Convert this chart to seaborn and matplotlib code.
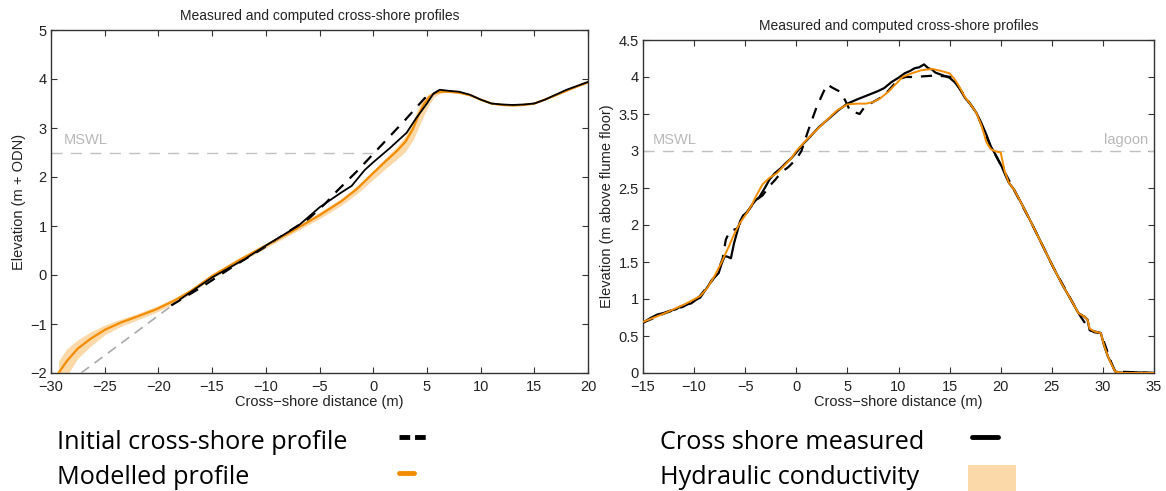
import numpy as np
import pandas as pd
import matplotlib
matplotlib.use("Agg")
import matplotlib.pyplot as plt
from matplotlib.lines import Line2D
from matplotlib.patches import Rectangle
from matplotlib import font_manager
import seaborn as sns

# ---------------- data: left panel ----------------
L_ext_x = [-27.2, -18.6]
L_ext_y = [-2.0, -0.6]

L_init_x = [-18.8, -16, -13, -10, -7.5, -6, -4.5, -3.3, -1.5, 0, 1.5, 3.0, 4.8, 5.5, 6.1]
L_init_y = [-0.62, -0.25, 0.18, 0.58, 0.94, 1.15, 1.45, 1.73, 2.12, 2.47, 2.82, 3.17, 3.61, 3.68, 3.76]

L_meas_x = [-18, -15, -12, -10, -7, -5, -3, -2, -0.8, 0, 1.5, 3.1, 4, 5, 5.6, 6.2, 7, 8, 9, 10, 11,
            12, 13, 14, 15, 16, 17, 18, 19, 20]
L_meas_y = [-0.5, -0.05, 0.32, 0.6, 1.0, 1.38, 1.68, 1.82, 2.14, 2.3, 2.58, 2.9, 3.2, 3.5, 3.7, 3.78,
            3.76, 3.74, 3.68, 3.58, 3.5, 3.48, 3.47, 3.48, 3.5, 3.58, 3.68, 3.78, 3.86, 3.94]

L_model_x = [-29.3, -28.5, -27.5, -26.3, -25, -23.5, -22, -20.2, -18.5, -17, -15, -12.5, -10, -7.5,
             -5, -3, -1.5, 0, 1.2, 2.2, 3, 3.7, 4.2, 4.7, 5.2, 5.7, 6.3, 7, 8, 9, 10, 11, 12, 13, 14,
             15, 16, 17, 18, 19, 20]
L_model_y = [-2.0, -1.75, -1.5, -1.3, -1.12, -0.97, -0.85, -0.7, -0.52, -0.33, -0.02, 0.3, 0.6, 0.9,
             1.22, 1.5, 1.76, 2.08, 2.33, 2.53, 2.72, 2.98, 3.25, 3.48, 3.63, 3.71, 3.74, 3.74, 3.72,
             3.67, 3.58, 3.5, 3.47, 3.46, 3.47, 3.5, 3.58, 3.67, 3.76, 3.85, 3.93]
# hydraulic-conductivity envelope (lower / upper) on the model x grid
L_band_lo = [-2.3, -2.05, -1.7, -1.45, -1.22, -1.05, -0.92, -0.76, -0.58, -0.38, -0.07, 0.25, 0.55,
             0.85, 1.15, 1.42, 1.66, 1.95, 2.18, 2.36, 2.52, 2.75, 3.0, 3.25, 3.48, 3.64, 3.71, 3.73,
             3.71, 3.66, 3.57, 3.49, 3.46, 3.45, 3.46, 3.49, 3.57, 3.66, 3.75, 3.84, 3.92]
L_band_hi = [-1.75, -1.5, -1.32, -1.16, -1.02, -0.9, -0.79, -0.64, -0.47, -0.29, 0.02, 0.35, 0.65,
             0.95, 1.28, 1.56, 1.82, 2.14, 2.4, 2.62, 2.84, 3.15, 3.42, 3.6, 3.7, 3.74, 3.76, 3.75,
             3.73, 3.68, 3.59, 3.51, 3.48, 3.47, 3.48, 3.51, 3.59, 3.68, 3.77, 3.86, 3.94]

# ---------------- data: right panel ----------------
R_meas_x = [-15, -14.3, -13.6, -13, -12.4, -11.8, -11.3, -10.9, -10.3, -9.8, -9.4, -9.0, -8.6, -8.3,
            -7.9, -7.6, -7.3, -7.0, -6.7, -6.4, -6.1, -5.8, -5.5, -5.2, -4.8, -4.4, -4.0, -3.6, -3.3,
            -3.0, -2.6, -2.1, -1.5, -1.0, -0.5, 0, 0.7, 1.4, 2.2, 3.2, 4.1, 5.0, 6.0, 7.1, 8.0, 8.6,
            9.3, 10.0, 10.6, 11.1, 11.6, 12.0, 12.5, 12.9, 13.3, 13.6, 14.2, 15.0, 15.5, 15.9, 16.5,
            17.1, 17.6, 18.1, 18.6, 19.0, 19.5, 20.1, 20.5, 20.8, 21.3, 22.0, 23.0, 24.0, 25.1, 26.0,
            27.0, 27.6, 28.2, 28.5, 28.7, 29.2, 29.8, 30.1, 30.5, 30.9, 31.2, 32, 33, 35]
R_meas_y = [0.68, 0.74, 0.79, 0.81, 0.84, 0.86, 0.9, 0.92, 0.94, 0.99, 1.02, 1.1, 1.18, 1.25,
            1.31, 1.35, 1.48, 1.58, 1.57, 1.55, 1.75, 1.9, 2.05, 2.13, 2.17, 2.26, 2.33, 2.38, 2.45,
            2.52, 2.62, 2.7, 2.77, 2.84, 2.9, 2.98, 3.1, 3.2, 3.32, 3.44, 3.55, 3.64, 3.7, 3.76, 3.81,
            3.85, 3.93, 3.99, 4.05, 4.08, 4.12, 4.13, 4.17, 4.12, 4.1, 4.06, 4.03, 3.99, 3.93, 3.86,
            3.72, 3.62, 3.52, 3.38, 3.22, 3.07, 2.95, 2.79, 2.66, 2.57, 2.48, 2.3, 2.03, 1.75, 1.44,
            1.2, 0.96, 0.81, 0.76, 0.72, 0.58, 0.55, 0.54, 0.38, 0.22, 0.11, 0.02, 0.0, 0.01, 0.0]

R_init_x = [-15, -13, -11, -9.5, -8.5, -7.8, -7.2, -6.9, -6.5, -5.8, -5.1, -4.4, -3.8, -3.3, -2.6,
            -2.0, -1.5, -0.8, 0, 0.5, 1.1, 2.0, 3.0, 3.6, 4.3, 4.8, 5.3, 5.8, 6.2, 6.7, 7.1, 8.0, 8.6,
            9.3, 10.0, 10.7, 11.4, 12.5, 13.6, 14.5, 15.2, 15.8, 17.6, 19.0, 20.1, 23.0, 25.1, 27.6,
            28.7, 29.8, 30.9, 31.2, 35]
R_init_y = [0.68, 0.8, 0.9, 1.03, 1.2, 1.33, 1.55, 1.8, 1.92, 1.95, 2.13, 2.25, 2.35, 2.4, 2.53,
            2.62, 2.71, 2.78, 2.89, 3.0, 3.25, 3.6, 3.9, 3.85, 3.8, 3.68, 3.53, 3.52, 3.5, 3.6, 3.63,
            3.7, 3.75, 3.86, 3.97, 4.0, 4.0, 4.01, 4.02, 4.01, 4.0, 3.88, 3.52, 3.07, 2.79, 2.03,
            1.44, 0.81, 0.58, 0.54, 0.11, 0.02, 0.0]

R_model_x = [-15, -13, -10.9, -9.4, -8.7, -8, -7.3, -6.6, -6, -5.5, -4.9, -4.4, -3.9, -3.3, -2.6,
             -1.9, -1.2, -0.5, 0, 1, 2.1, 3, 4, 5, 6, 6.8, 7.5, 8.2, 9, 9.7, 10.4, 11.3, 12.2, 13.3,
             14.2, 15, 15.5, 15.9, 16.5, 17.1, 17.6, 18.1, 18.6, 19.0, 19.4, 20.0, 20.2, 20.4, 20.8,
             21.3, 22.0, 23.0, 24.0, 25.1, 26.0, 27.0, 27.6, 28.2, 28.5, 28.7, 29.2, 29.8, 30.1,
             30.5, 30.9, 31.2, 32, 35]
R_model_y = [0.69, 0.8, 0.93, 1.04, 1.15, 1.31, 1.5, 1.71, 1.9, 2.03, 2.15, 2.26, 2.4, 2.55, 2.64,
             2.7, 2.8, 2.9, 3.0, 3.15, 3.3, 3.42, 3.55, 3.63, 3.64, 3.64, 3.66, 3.71, 3.8, 3.9, 4.0,
             4.05, 4.09, 4.11, 4.08, 4.05, 3.97, 3.88, 3.73, 3.62, 3.52, 3.35, 3.12, 3.03, 3.0, 2.98,
             2.85, 2.72, 2.57, 2.48, 2.3, 2.03, 1.75, 1.44, 1.2, 0.96, 0.81, 0.76, 0.72, 0.6, 0.56,
             0.54, 0.38, 0.22, 0.1, 0.02, 0.0, 0.0]

TITLE = "Measured and computed cross-shore profiles"
XLABEL = "Cross\u2212shore distance (m)"
L_YLABEL = "Elevation (m + ODN)"
R_YLABEL = "Elevation (m above flume floor)"
L_XTICKS = [-30, -25, -20, -15, -10, -5, 0, 5, 10, 15, 20]
L_YTICKS = [-2, -1, 0, 1, 2, 3, 4, 5]
R_XTICKS = [-15, -10, -5, 0, 5, 10, 15, 20, 25, 30, 35]
R_YTICKS = [0, 0.5, 1, 1.5, 2, 2.5, 3, 3.5, 4, 4.5]
L_MSWL = 2.5
R_MSWL = 3.0
LEGEND_LABELS = ["Initial cross-shore profile", "Modelled profile",
                 "Cross shore measured", "Hydraulic conductivity"]

# ---------------- style ----------------
sns.set_theme(style="white")
avail = {f.name for f in font_manager.fontManager.ttflist}
plt.rcParams['font.family'] = ['Liberation Sans', 'DejaVu Sans']
if 'Liberation Sans Narrow' in avail:
    LEG_FONT, LEG_SIZE = ['Liberation Sans Narrow', 'DejaVu Sans'], 19
else:
    LEG_FONT, LEG_SIZE = ['Open Sans', 'DejaVu Sans'], 18.2

ORANGE = "#f28c00"
BAND = "#fcd9a8"
GREY = "#c0c0c0"
TXT = "#222222"

fig = plt.figure(figsize=(11.66, 4.91), dpi=100)
axL = fig.add_axes([51 / 1166, 1 - 373 / 491, 537 / 1166, 343 / 491])
axR = fig.add_axes([643 / 1166, 1 - 373 / 491, 511 / 1166, 333 / 491])


def line(ax, x, y, **kw):
    df = pd.DataFrame({"x": x, "y": y})
    sns.lineplot(data=df, x="x", y="y", ax=ax, sort=False, estimator=None, **kw)


# left panel
axL.axhline(L_MSWL, xmin=0, xmax=0.6, color=GREY, lw=1.0, dashes=(8, 6), zorder=1)
axL.text(-28.8, L_MSWL + 0.12, "MSWL", color="#b8b8b8", fontsize=10.5, va="bottom", ha="left")
axL.fill_between(L_model_x, L_band_lo, L_band_hi, color=BAND, lw=0, zorder=2)
line(axL, L_ext_x, L_ext_y, color="#aaaaaa", lw=1.2, dashes=(6, 4), zorder=3)
line(axL, L_init_x, L_init_y, color="black", lw=1.6, dashes=(5, 4), zorder=3)
line(axL, L_model_x, L_model_y, color=ORANGE, lw=1.6, zorder=4)
line(axL, L_meas_x, L_meas_y, color="black", lw=1.3, zorder=5)
axL.set_xlim(-30, 20)
axL.set_ylim(-2, 5)
axL.set_xticks(L_XTICKS)
axL.set_yticks(L_YTICKS)
axL.set_ylabel(L_YLABEL, fontsize=10.5, color=TXT, labelpad=3)
axL.set_xlabel(XLABEL, fontsize=10.5, color=TXT, labelpad=1)
axL.set_title(TITLE, fontsize=10, color=TXT, pad=7)

# right panel
axR.axhline(R_MSWL, color=GREY, lw=1.0, dashes=(8, 6), zorder=1)
axR.text(-14.0, R_MSWL + 0.06, "MSWL", color="#b8b8b8", fontsize=10.5, va="bottom", ha="left")
axR.text(34.4, R_MSWL + 0.06, "lagoon", color="#b8b8b8", fontsize=10.5, va="bottom", ha="right")
line(axR, R_init_x, R_init_y, color="black", lw=1.6, dashes=(5, 4), zorder=3)
line(axR, R_meas_x, R_meas_y, color="black", lw=1.6, zorder=4)
line(axR, R_model_x, R_model_y, color=ORANGE, lw=1.4, zorder=5)
axR.set_xlim(-15, 35)
axR.set_ylim(0, 4.5)
axR.set_xticks(R_XTICKS)
axR.set_yticks(R_YTICKS)
axR.set_yticklabels([("%g" % v) for v in R_YTICKS])
axR.set_ylabel(R_YLABEL, fontsize=10.5, color=TXT, labelpad=3)
axR.set_xlabel(XLABEL, fontsize=10.5, color=TXT, labelpad=1)
axR.set_title(TITLE, fontsize=10, color=TXT, pad=7)

for ax in (axL, axR):
    for s in ax.spines.values():
        s.set_visible(True)
        s.set_color("#333333")
        s.set_linewidth(1.0)
    ax.tick_params(direction="in", length=4, width=0.8, top=True, right=True,
                   bottom=True, left=True, labelsize=10.5, colors="#333333",
                   labelcolor=TXT)
    ax.tick_params(axis="x", pad=5)
    ax.tick_params(axis="y", pad=3)
    ax.grid(False)

# ---------------- custom legend ----------------
lf = dict(fontsize=LEG_SIZE, family=LEG_FONT, color="black", va="baseline", ha="left")
fig.text(57 / 1166, 1 - 449 / 491, LEGEND_LABELS[0], **lf)
fig.text(57 / 1166, 1 - 484 / 491, LEGEND_LABELS[1], **lf)
fig.text(660 / 1166, 1 - 449 / 491, LEGEND_LABELS[2], **lf)
fig.text(660 / 1166, 1 - 484 / 491, LEGEND_LABELS[3], **lf)
fig.add_artist(Line2D([399 / 1166, 430 / 1166], [1 - 437 / 491] * 2, color="black", lw=3.5,
                      dashes=(2.2, 1.0), transform=fig.transFigure))
fig.add_artist(Line2D([399 / 1166, 414 / 1166], [1 - 473 / 491] * 2, color=ORANGE, lw=3.5,
                      transform=fig.transFigure))
fig.add_artist(Line2D([972 / 1166, 998 / 1166], [1 - 437 / 491] * 2, color="black", lw=3.5,
                      transform=fig.transFigure))
fig.add_artist(Rectangle((968 / 1166, 1 - 491 / 491), 48 / 1166, 26 / 491, color=BAND,
                         transform=fig.transFigure, lw=0))

fig.savefig("out.png", dpi=100)
